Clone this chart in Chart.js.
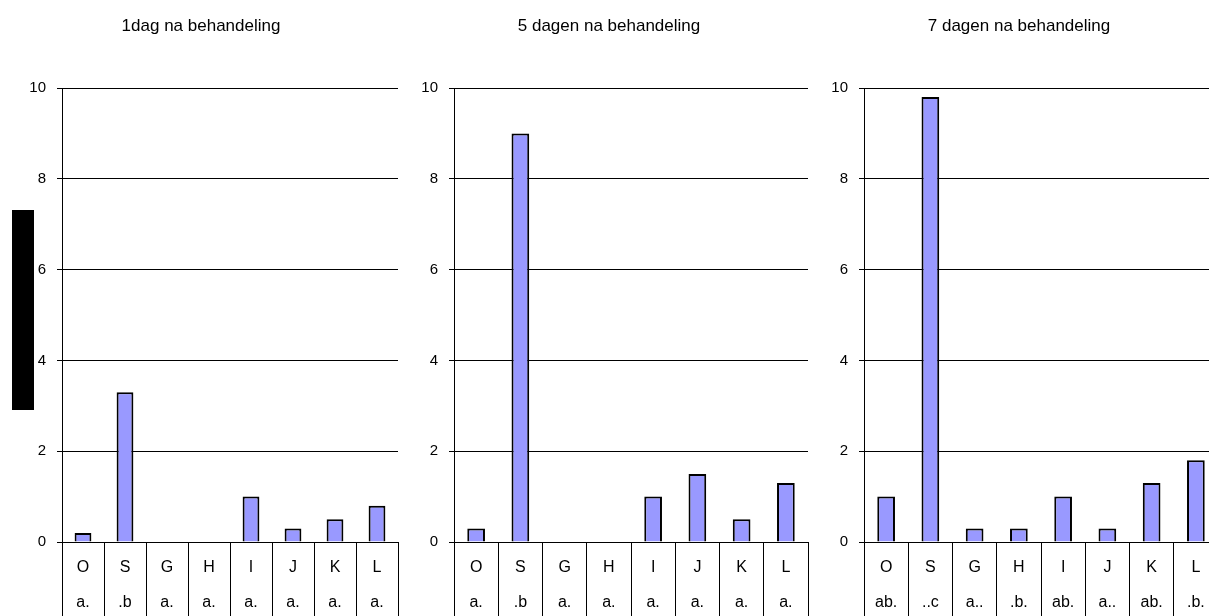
<!DOCTYPE html>
<html>
<head>
<meta charset="utf-8">
<title>Behandeling</title>
<script src="https://cdn.jsdelivr.net/npm/chart.js@4.4.1/dist/chart.umd.min.js"></script>
<style>
    body { margin: 0; background: #fff; overflow: hidden; width: 1209px; height: 616px; position: relative; }
    .graph { position: absolute; top: 0; height: 616px; }
    .graph canvas { display: block; }
    #axis_block { position: absolute; left: 12px; top: 210px; width: 22px; height: 200px; background: #000; }
</style>
</head>
<body>
<div id="axis_block"></div>
<div class="graph" id="wrap_1" style="left:4px;width:396px"><canvas id="graph_1"></canvas></div>
<div class="graph" id="wrap_2" style="left:410px;width:440px"><canvas id="graph_2"></canvas></div>
<div class="graph" id="wrap_3" style="left:820px;width:434px"><canvas id="graph_3"></canvas></div>
<script>
const categories = ['O', 'S', 'G', 'H', 'I', 'J', 'K', 'L'];
const titles = ['1dag na behandeling', '5 dagen na behandeling', '7 dagen na behandeling'];

const day1 = [0.2, 3.3, 0, 0, 1.0, 0.3, 0.5, 0.8];
const day5 = [0.3, 9.0, 0, 0, 1.0, 1.5, 0.5, 1.3];
const day7 = [1.0, 9.8, 0.3, 0.3, 1.0, 0.3, 1.3, 1.8];

const groups1 = ['a.', '.b', 'a.', 'a.', 'a.', 'a.', 'a.', 'a.'];
const groups5 = ['a.', '.b', 'a.', 'a.', 'a.', 'a.', 'a.', 'a.'];
const groups7 = ['ab.', '..c', 'a..', '.b.', 'ab.', 'a..', 'ab.', '.b.'];

const yMax = 10;
const yStep = 2;

Chart.defaults.font.family = '"Liberation Sans", Arial, sans-serif';
Chart.defaults.color = '#000';

// axisWidth = room for the y labels, padRight = gap after the last category
function drawPanel(id, title, values, groups, axisWidth, padRight){
    let canvas = document.getElementById(id);
    canvas.width = canvas.parentNode.clientWidth;
    canvas.height = 616;

    let labels = [];
    for (let i = 0; i < categories.length; i++) {
        labels.push([categories[i], groups[i]]);
    }

    return new Chart(canvas, {
        type: 'bar',
        data: {
            labels: labels,
            datasets: [{
                data: values,
                backgroundColor: '#9999ff',
                borderColor: '#000',
                borderWidth: 2,
                barPercentage: 0.4,
                categoryPercentage: 1
            }]
        },
        options: {
            responsive: false,
            maintainAspectRatio: false,
            animation: false,
            layout: { padding: { left: 0, right: padRight, top: 0, bottom: 0 } },
            plugins: {
                legend: { display: false },
                tooltip: { enabled: false },
                title: {
                    display: true,
                    text: title,
                    color: '#000',
                    font: { size: 17, weight: 'normal' },
                    padding: { top: 16, bottom: 51.6 }
                }
            },
            scales: {
                x: {
                    type: 'category',
                    afterFit: function(scale){ scale.height = 74; },
                    grid: {
                        display: true,
                        offset: true,
                        drawOnChartArea: false,
                        drawTicks: true,
                        tickLength: 80,
                        color: '#000'
                    },
                    border: { display: true, color: '#000' },
                    ticks: {
                        autoSkip: false,
                        maxRotation: 0,
                        color: '#000',
                        font: { size: 16, lineHeight: 35 / 16 },
                        padding: -71.5
                    }
                },
                y: {
                    min: 0,
                    max: yMax,
                    afterFit: function(scale){ scale.width = axisWidth; },
                    grid: { color: '#000', tickLength: 5 },
                    border: { display: true, color: '#000' },
                    ticks: {
                        stepSize: yStep,
                        color: '#000',
                        font: { size: 15 },
                        padding: 11
                    }
                }
            }
        }
    });
}

drawPanel('graph_1', titles[0], day1, groups1, 58, 2);
drawPanel('graph_2', titles[1], day5, groups5, 44, 42);
drawPanel('graph_3', titles[2], day7, groups7, 44, 36);
</script>
</body>
</html>
